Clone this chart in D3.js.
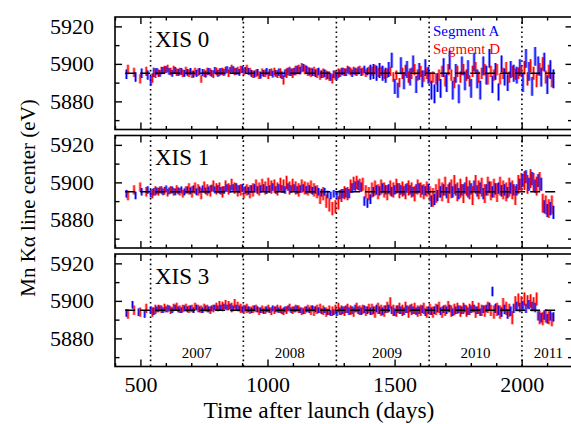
<!DOCTYPE html>
<html>
<head>
<meta charset="utf-8">
<script src="https://cdn.jsdelivr.net/npm/d3@7"></script>
<style>
  body { margin: 0; background: #fff; }
  svg text { font-family: "Liberation Serif", "Times New Roman", serif !important; }
</style>
</head>
<body>
<div id="chart"></div>
<script>
// Mn K-alpha line center per observation, XIS 0/1/3, segments A and D
// segment A sampled from day 445, segment D from day 451, one point every 12 days
const startA = 445, startD = 451, stepDays = 12;

const xis0A = [
  5894.5, null, null, 5893, null, 5895, null, 5894, 5891, 5895.5,
  5896, 5895, 5896.5, 5897, 5896, 5895, 5896.5, 5895.5, 5896, 5895,
  5895.5, 5896, 5894.5, 5895, 5896, 5895.5, 5894.5, 5896, 5895, 5896.5,
  5895, 5896, 5895.5, 5897, 5896.5, 5897, 5896, 5895.5, 5897, 5896.5,
  5896, 5895, 5894.5, 5895.5, 5894, 5895, 5896, 5895.5, 5894.5, 5895,
  5895.5, 5894, 5895, 5896, 5895.5, 5896, 5897, 5896.5, 5898, 5897,
  5896, 5895.5, 5895, 5896, 5894.5, 5895, 5894, 5893, 5894.5, 5893.5,
  5895, 5896, 5895.5, 5896.5, 5895, 5896, 5896.5, 5895.5, 5897, 5896,
  5895.5, 5896, 5895, 5896.5, 5895, 5894, 5897, 5902, 5888, 5886,
  5899, 5891, 5897, 5893, 5900, 5889, 5896, 5892, 5898, 5894,
  5886, 5884, 5890, 5887, 5898, 5890, 5902, 5886, 5895, 5884,
  5899, 5891, 5897, 5887, 5901, 5892, 5886, 5899, 5894, 5903,
  5889, 5896, 5885, 5900, 5893, 5890, 5897, 5895, 5894, 5898,
  5890, 5903, 5896, 5888, 5904, 5899, 5893, 5901, 5889, 5897,
  5892
];
const xis0D = [
  5897, null, 5895.5, null, 5892, null, 5896, null, 5892.5, 5895,
  5895, 5896.5, 5897, 5897.5, 5896, 5897, 5895.5, 5896, 5895, 5896.5,
  5895, 5894.5, 5896, 5895.5, 5892, 5895, 5896, 5895.5, 5894.5, 5896,
  5895.5, 5896, 5896.5, 5895, 5897.5, 5896, 5896.5, 5897, 5896, 5897.5,
  5896, 5894.5, 5895, 5894, 5895.5, 5895, 5894, 5895.5, 5896, 5894.5,
  5895, 5891.5, 5895, 5896, 5895, 5896.5, 5897, 5898, 5897, 5896,
  5895.5, 5896, 5895, 5894, 5895, 5894, 5893.5, 5892, 5894, 5895,
  5896, 5895.5, 5897, 5896, 5896.5, 5895.5, 5897, 5896, 5895, 5896.5,
  5896, 5897, 5895.5, 5896, 5894.5, 5895, 5896, 5893, 5894, 5890,
  5895, 5896.5, 5893, 5895, 5897, 5894, 5896, 5893.5, 5895, 5892.5,
  5893, 5892, 5894, 5896, 5891, 5897, 5894, 5890, 5896, 5893,
  5897, 5894, 5891, 5896, 5898, 5893, 5895, 5897, 5892, 5896,
  5894, 5897, 5892, 5895, 5898, 5893, 5896, 5894.5, 5895, 5896,
  5898, 5892, 5899, 5895, 5891, 5897, 5900, 5893, 5896, 5891,
  null
];
const xis1A = [
  5894, null, null, 5893, null, 5895, null, 5896, 5894, 5895,
  5895.5, 5896, 5895, 5896.5, 5895.5, 5896, 5895, 5895.5, 5896, 5895,
  5896, 5895.5, 5896.5, 5895, 5896, 5896.5, 5895.5, 5896, 5897, 5896,
  5896.5, 5895.5, 5896, 5897, 5896.5, 5897, 5897.5, 5896.5, 5897, 5896,
  5895.5, 5896.5, 5897, 5896, 5896.5, 5897, 5896, 5896.5, 5897.5, 5896,
  5897, 5896.5, 5896, 5897.5, 5896.5, 5897, 5896, 5896.5, 5897, 5896,
  5896.5, 5895.5, 5896, 5895, 5894.5, 5895, 5893.5, 5893, 5894, 5893,
  5893.5, 5894, 5894.5, 5894, 5897, 5898, 5898.5, 5897.5, 5890, 5889,
  5891, 5895, 5896, 5895.5, 5897, 5896, 5896.5, 5895, 5896, 5897,
  5896, 5895.5, 5897, 5896, 5895, 5896.5, 5897, 5896, 5895.5, 5896.5,
  5890, 5891, 5893, 5895, 5896, 5894.5, 5897, 5895, 5896, 5894,
  5896, 5897, 5895, 5896.5, 5898, 5895.5, 5897, 5894, 5896, 5897.5,
  5895, 5896.5, 5897, 5895.5, 5896, 5894.5, 5897, 5896, 5896, 5899,
  5901, 5903, 5899, 5902, 5898, 5901, 5899, 5887, 5885, 5886,
  5884
];
const xis1D = [
  5893, null, 5896, null, 5897.5, null, 5895, null, 5894, 5895.5,
  5895, 5896, 5895.5, 5894.5, 5896, 5895, 5896.5, 5895, 5894, 5896,
  5896.5, 5895, 5897, 5896, 5894, 5897.5, 5896, 5895.5, 5898, 5896.5,
  5897, 5895, 5898, 5896.5, 5899, 5897, 5895.5, 5896, 5894.5, 5896,
  5895, 5896, 5898, 5896.5, 5898.5, 5897, 5899, 5897.5, 5898, 5896.5,
  5899, 5898, 5900, 5897, 5898.5, 5897, 5896, 5898, 5897, 5896.5,
  5897.5, 5896, 5895, 5892, 5894, 5890, 5888, 5886, 5887, 5889,
  5893, 5894.5, 5894, 5898, 5899.5, 5900, 5898.5, 5899, 5895, 5894,
  5896, 5897, 5895, 5897.5, 5896, 5894.5, 5897, 5896, 5898, 5895.5,
  5896.5, 5895, 5897, 5896, 5894, 5897.5, 5896, 5895, 5896.5, 5894,
  5892, 5894, 5897, 5895, 5898, 5894, 5896.5, 5899, 5895, 5897,
  5894, 5898, 5896, 5893, 5899, 5896, 5897.5, 5894, 5898, 5895.5,
  5897, 5894.5, 5898, 5896, 5895, 5897.5, 5896, 5893, 5899, 5900,
  5901, 5899, 5902, 5900, 5898, 5900.5, 5889, 5888, 5886, 5888,
  null
];
const xis3A = [
  5893.5, null, 5898, null, 5894, null, 5893, null, 5895, 5894.5,
  5895.5, 5896, 5895, 5895.5, 5896, 5895, 5896.5, 5895.5, 5895, 5896,
  5895.5, 5896, 5895, 5896.5, 5895.5, 5895, 5896, 5895.5, 5896, 5896.5,
  5896, 5896.5, 5897, 5896.5, 5897, 5896, 5896.5, 5896, 5895.5, 5896,
  5895.5, 5895, 5896, 5895.5, 5895, 5894.5, 5895.5, 5895, 5896, 5895.5,
  5895, 5894.5, 5895.5, 5896, 5895, 5895.5, 5896, 5895, 5894.5, 5895.5,
  5895, 5896, 5895.5, 5895, 5894.5, 5895, 5894, 5893.5, 5894, 5893.5,
  5894.5, 5895, 5895.5, 5894.5, 5895, 5896, 5895, 5894.5, 5895.5, 5895,
  5894.5, 5895, 5896, 5895, 5894.5, 5895.5, 5896, 5895, 5894, 5895.5,
  5895, 5894.5, 5895.5, 5896, 5895, 5894.5, 5895, 5895.5, 5894, 5895,
  5894.5, 5895, 5896, 5894.5, 5895.5, 5895, 5896, 5894, 5895, 5895.5,
  5895, 5896, 5894.5, 5895.5, 5896, 5895, 5894, 5895.5, 5896, 5897,
  5905, 5896, 5895, 5894, 5895.5, 5893, 5894.5, 5896, 5897, 5896.5,
  5897.5, 5896, 5898, 5897, 5896.5, 5892, 5891, 5892.5, 5890.5, 5892,
  5891.5
];
const xis3D = [
  5893, null, 5895, null, 5894, null, 5896, null, 5894, 5895.5,
  5896, 5895.5, 5896.5, 5896, 5895, 5896.5, 5897, 5895.5, 5896, 5896.5,
  5895.5, 5896, 5897, 5896, 5895.5, 5896.5, 5896, 5895, 5896, 5897,
  5897.5, 5897, 5898, 5897.5, 5896.5, 5898.5, 5897, 5896, 5895.5, 5896,
  5895, 5895.5, 5896, 5894.5, 5895.5, 5895, 5896, 5894.5, 5895, 5896,
  5895.5, 5894.5, 5895, 5896.5, 5895, 5896, 5895.5, 5894.5, 5895, 5896,
  5895, 5894.5, 5895.5, 5896, 5895, 5894, 5895, 5894.5, 5895.5, 5896.5,
  5895, 5894.5, 5896, 5895, 5894, 5896.5, 5895, 5895.5, 5894.5, 5896,
  5895.5, 5894, 5896, 5895, 5894.5, 5896.5, 5899, 5895, 5894.5, 5896,
  5895, 5896.5, 5894, 5895.5, 5896, 5894.5, 5895, 5896, 5894, 5895.5,
  5894, 5895.5, 5896.5, 5894, 5895, 5897, 5894.5, 5895.5, 5896, 5894.5,
  5896, 5894.5, 5895.5, 5897, 5894, 5896, 5895, 5894.5, 5896.5, 5895,
  5894, 5895.5, 5894, 5898, 5896, 5895, 5891, 5899, 5900.5, 5899,
  5901, 5899.5, 5900, 5898.5, 5901, 5891, 5890.5, 5892, 5891, 5890,
  null
];

// 1-sigma error, one value per block of 10 points
const errA0 = [2.5, 1.8, 1.8, 1.8, 1.8, 2, 2, 2, 4, 4.5, 5, 5, 4.5, 5, 5];
const errD0 = [2.5, 2, 2, 2, 2, 2.5, 2.5, 2, 2.5, 3, 3, 3, 3, 3.5, 3.5];
const errA1 = [2, 1.8, 1.8, 2, 2, 2, 2, 2.5, 2.5, 2.5, 3, 3, 3, 3.5, 3.5];
const errD1 = [2.5, 2, 3, 3, 3.5, 3.5, 3.5, 3.5, 4, 4, 5, 5, 5, 5, 5];
const errA3 = [2, 1.5, 1.5, 1.5, 1.5, 1.5, 1.5, 2, 2, 2, 2, 2, 2.5, 2.5, 2.5];
const errD3 = [2.5, 2, 2, 2.5, 2, 2, 2.5, 2.5, 3, 3, 3, 3, 3.5, 3.5, 3.5];

const panelNames = ["XIS 0", "XIS 1", "XIS 3"];
const refEnergy = 5895;
const refSpan = [440, 2150];
const yearStarts = [540, 905, 1271, 1636, 2001];
const yearNames = ["2007", "2008", "2009", "2010", "2011"];
const yearLabelDays = [722, 1088, 1470, 1818, 2105];
const xMajorTicks = [500, 1000, 1500, 2000];
const yMajorTicks = [5880, 5900, 5920];

const panels = [
  { name: panelNames[0], A: xis0A, D: xis0D, eA: errA0, eD: errD0 },
  { name: panelNames[1], A: xis1A, D: xis1D, eA: errA1, eD: errD1 },
  { name: panelNames[2], A: xis3A, D: xis3D, eA: errA3, eD: errD3 }
];

const width = 571, height = 424;
const left = 115, right = 572.5, top0 = 17, panelH = 112.5, gap = 6;
const serif = '"Liberation Serif", "Times New Roman", serif';

const x = d3.scaleLinear().domain([400, 2200]).range([left, right]);
const xMinor = d3.range(400, 2201, 100).filter(d => d % 500 !== 0);
const yMinor = [5870, 5890, 5910];

const svg = d3.select('#chart').append('svg')
  .attr('width', width)
  .attr('height', height)
  .attr('font-family', serif);

svg.append('defs').append('clipPath').attr('id', 'clip')
  .append('rect').attr('x', 0).attr('y', 0).attr('width', right - left).attr('height', panelH);

panels.forEach(function (p, k) {
  const top = top0 + k * (panelH + gap);
  const y = d3.scaleLinear().domain([5865, 5925]).range([top + panelH, top]);
  const g = svg.append('g');

  // year boundaries
  g.selectAll(null).data(yearStarts).enter().append('line')
    .attr('x1', d => x(d)).attr('x2', d => x(d))
    .attr('y1', top).attr('y2', top + panelH)
    .style('stroke', '#000').style('stroke-width', 1.6)
    .style('stroke-dasharray', '1.6,3.2');

  // merge the two segments in time order so they overlap like the original
  let pts = [];
  p.A.forEach(function (v, i) {
    if (v != null) pts.push({ day: startA + stepDays * i, v: v, e: p.eA[Math.floor(i / 10)], c: '#0000ff' });
  });
  p.D.forEach(function (v, i) {
    if (v != null) pts.push({ day: startD + stepDays * i, v: v, e: p.eD[Math.floor(i / 10)], c: '#ff0000' });
  });
  pts.sort((a, b) => a.day - b.day);

  const dg = g.append('g').attr('transform', `translate(${left},${top})`)
    .append('g').attr('clip-path', 'url(#clip)')
    .append('g').attr('transform', `translate(${-left},${-top})`);

  const bars = dg.selectAll(null).data(pts).enter().append('g');
  bars.append('line')
    .attr('x1', d => x(d.day)).attr('x2', d => x(d.day))
    .attr('y1', d => y(d.v - d.e)).attr('y2', d => y(d.v + d.e))
    .style('stroke', d => d.c).style('stroke-opacity', 0.45).style('stroke-width', 3);
  bars.append('line')
    .attr('x1', d => x(d.day)).attr('x2', d => x(d.day))
    .attr('y1', d => y(d.v - d.e)).attr('y2', d => y(d.v + d.e))
    .style('stroke', d => d.c).style('stroke-width', 1.1);

  // reference line
  g.append('line')
    .attr('x1', x(refSpan[0])).attr('x2', x(refSpan[1]))
    .attr('y1', y(refEnergy)).attr('y2', y(refEnergy))
    .style('stroke', '#000').style('stroke-width', 1.6)
    .style('stroke-dasharray', '10,5');

  // ticks on all four sides, pointing inwards
  const axes = [
    [d3.axisBottom(x).tickValues(xMajorTicks).tickSize(-7), `translate(0,${top + panelH})`],
    [d3.axisBottom(x).tickValues(xMinor).tickSize(-3.5), `translate(0,${top + panelH})`],
    [d3.axisTop(x).tickValues(xMajorTicks).tickSize(-7), `translate(0,${top})`],
    [d3.axisTop(x).tickValues(xMinor).tickSize(-3.5), `translate(0,${top})`],
    [d3.axisLeft(y).tickValues(yMajorTicks).tickSize(-7), `translate(${left},0)`],
    [d3.axisLeft(y).tickValues(yMinor).tickSize(-4.5), `translate(${left},0)`],
    [d3.axisRight(y).tickValues(yMajorTicks).tickSize(-7), `translate(${right},0)`],
    [d3.axisRight(y).tickValues(yMinor).tickSize(-4.5), `translate(${right},0)`]
  ];
  axes.forEach(function (a, j) {
    const showLabels = (j === 4) || (j === 0 && k === panels.length - 1);
    a[0].tickFormat(showLabels ? d3.format('d') : '');
    a[0].tickPadding(j === 4 ? 21 : 10);
    const ag = g.append('g').attr('transform', a[1]).call(a[0]);
    ag.attr('font-family', serif).attr('font-size', 22);
    ag.select('.domain').remove();
    ag.selectAll('line').style('stroke', '#000').style('stroke-width', 1.4);
    ag.selectAll('text').style('fill', '#000');
  });

  // frame
  g.append('rect')
    .attr('x', left).attr('y', top).attr('width', right - left).attr('height', panelH)
    .style('fill', 'none').style('stroke', '#000').style('stroke-width', 1.6);

  g.append('text')
    .attr('x', 155).attr('y', top + 29.5)
    .style('font-size', '23px')
    .text(p.name);

  if (k === 0) {
    g.append('text').attr('x', 433).attr('y', 36)
      .style('font-size', '15px').style('fill', '#0000ff').text('Segment A');
    g.append('text').attr('x', 433).attr('y', 54)
      .style('font-size', '15px').style('fill', '#ff0000').text('Segment D');
  }
  if (k === panels.length - 1) {
    g.selectAll(null).data(yearNames).enter().append('text')
      .attr('x', (d, i) => x(yearLabelDays[i])).attr('y', top + panelH - 8.5)
      .attr('text-anchor', 'middle')
      .style('font-size', '15px')
      .text(d => d);
  }
});

svg.append('text')
  .attr('x', 319).attr('y', 418)
  .attr('text-anchor', 'middle')
  .style('font-size', '23.5px')
  .text('Time after launch (days)');

svg.append('text')
  .attr('transform', 'translate(35,198) rotate(-90)')
  .attr('text-anchor', 'middle')
  .style('font-size', '21px')
  .text('Mn K\u03b1 line center (eV)');
</script>
</body>
</html>
